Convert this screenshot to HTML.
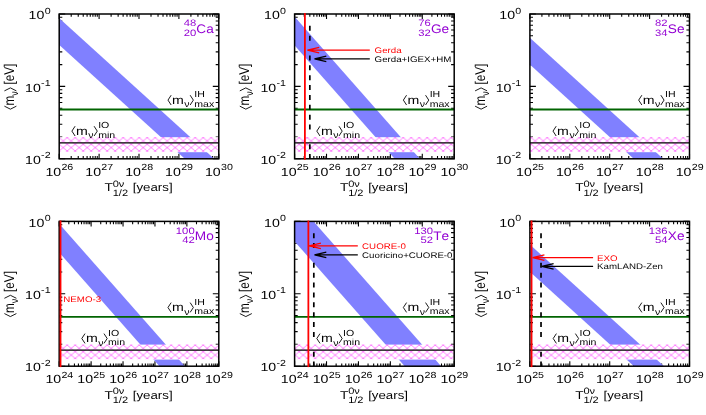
<!DOCTYPE html>
<html><head><meta charset="utf-8"><title>0vbb sensitivity</title>
<style>html,body{margin:0;padding:0;background:#fff}svg{display:block}</style></head>
<body>
<svg width="706" height="415" viewBox="0 0 706 415" font-family="'Liberation Sans', sans-serif" text-rendering="geometricPrecision" style="font-kerning:none">
<rect width="706" height="415" fill="#fff"/>
<g opacity="0.999">
<defs>
<pattern id="hatch0" patternUnits="userSpaceOnUse" x="59.2" y="137.60" width="8" height="6.7"><path d="M0,0L8,6.7M8,0L0,6.7" stroke="#ff00ff" stroke-width="0.52" fill="none"/></pattern>
<pattern id="hatch1" patternUnits="userSpaceOnUse" x="59.2" y="345.00" width="8" height="6.7"><path d="M0,0L8,6.7M8,0L0,6.7" stroke="#ff00ff" stroke-width="0.52" fill="none"/></pattern>
</defs>
<clipPath id="c00"><rect x="59.2" y="14.0" width="159.60" height="144.8"/></clipPath>
<path d="M59.20,158.8v-5.0M59.20,14.0v5.0M71.21,158.8v-2.8M71.21,14.0v2.8M78.24,158.8v-2.8M78.24,14.0v2.8M83.22,158.8v-2.8M83.22,14.0v2.8M87.09,158.8v-2.8M87.09,14.0v2.8M90.25,158.8v-2.8M90.25,14.0v2.8M92.92,158.8v-2.8M92.92,14.0v2.8M95.23,158.8v-2.8M95.23,14.0v2.8M97.27,158.8v-2.8M97.27,14.0v2.8M99.10,158.8v-5.0M99.10,14.0v5.0M111.11,158.8v-2.8M111.11,14.0v2.8M118.14,158.8v-2.8M118.14,14.0v2.8M123.12,158.8v-2.8M123.12,14.0v2.8M126.99,158.8v-2.8M126.99,14.0v2.8M130.15,158.8v-2.8M130.15,14.0v2.8M132.82,158.8v-2.8M132.82,14.0v2.8M135.13,158.8v-2.8M135.13,14.0v2.8M137.17,158.8v-2.8M137.17,14.0v2.8M139.00,158.8v-5.0M139.00,14.0v5.0M151.01,158.8v-2.8M151.01,14.0v2.8M158.04,158.8v-2.8M158.04,14.0v2.8M163.02,158.8v-2.8M163.02,14.0v2.8M166.89,158.8v-2.8M166.89,14.0v2.8M170.05,158.8v-2.8M170.05,14.0v2.8M172.72,158.8v-2.8M172.72,14.0v2.8M175.03,158.8v-2.8M175.03,14.0v2.8M177.07,158.8v-2.8M177.07,14.0v2.8M178.90,158.8v-5.0M178.90,14.0v5.0M190.91,158.8v-2.8M190.91,14.0v2.8M197.94,158.8v-2.8M197.94,14.0v2.8M202.92,158.8v-2.8M202.92,14.0v2.8M206.79,158.8v-2.8M206.79,14.0v2.8M209.95,158.8v-2.8M209.95,14.0v2.8M212.62,158.8v-2.8M212.62,14.0v2.8M214.93,158.8v-2.8M214.93,14.0v2.8M216.97,158.8v-2.8M216.97,14.0v2.8M218.80,158.8v-5.0M218.80,14.0v5.0M59.2,14.00h6.0M218.8,14.00h-6.0M59.2,64.61h3.1M218.8,64.61h-3.1M59.2,51.86h3.1M218.8,51.86h-3.1M59.2,42.81h3.1M218.8,42.81h-3.1M59.2,35.79h3.1M218.8,35.79h-3.1M59.2,30.06h3.1M218.8,30.06h-3.1M59.2,25.21h3.1M218.8,25.21h-3.1M59.2,21.02h3.1M218.8,21.02h-3.1M59.2,17.31h3.1M218.8,17.31h-3.1M59.2,86.40h6.0M218.8,86.40h-6.0M59.2,137.01h3.1M218.8,137.01h-3.1M59.2,124.26h3.1M218.8,124.26h-3.1M59.2,115.21h3.1M218.8,115.21h-3.1M59.2,108.19h3.1M218.8,108.19h-3.1M59.2,102.46h3.1M218.8,102.46h-3.1M59.2,97.61h3.1M218.8,97.61h-3.1M59.2,93.42h3.1M218.8,93.42h-3.1M59.2,89.71h3.1M218.8,89.71h-3.1M59.2,158.80h6.0M218.8,158.80h-6.0" stroke="#000" stroke-width="1.1" fill="none"/>
<polygon clip-path="url(#c00)" fill="#8080ff" points="9.20,-27.20 268.80,208.33 268.80,235.00 9.20,-0.52"/>
<rect x="59.2" y="137.2" width="159.60" height="15.00" fill="#fff"/>
<rect x="59.2" y="137.1" width="159.60" height="14.70" fill="url(#hatch0)"/>
<line x1="59.2" x2="218.8" y1="142.8" y2="142.8" stroke="#000" stroke-width="1.3"/>
<line x1="59.2" x2="218.8" y1="109.5" y2="109.5" stroke="#006400" stroke-width="1.8"/>
<rect x="59.2" y="14.0" width="159.60" height="144.8" fill="none" stroke="#000" stroke-width="1.5"/>
<text xml:space="preserve" transform="translate(45.39,175.55) scale(1.2,1)" font-size="11.8" text-anchor="start" fill="#000">10</text>
<text xml:space="preserve" transform="translate(61.44,170.45) scale(1.2,1)" font-size="8.9" text-anchor="start" fill="#000">26</text>
<text xml:space="preserve" transform="translate(85.29,175.55) scale(1.2,1)" font-size="11.8" text-anchor="start" fill="#000">10</text>
<text xml:space="preserve" transform="translate(101.34,170.45) scale(1.2,1)" font-size="8.9" text-anchor="start" fill="#000">27</text>
<text xml:space="preserve" transform="translate(125.19,175.55) scale(1.2,1)" font-size="11.8" text-anchor="start" fill="#000">10</text>
<text xml:space="preserve" transform="translate(141.24,170.45) scale(1.2,1)" font-size="8.9" text-anchor="start" fill="#000">28</text>
<text xml:space="preserve" transform="translate(165.09,175.55) scale(1.2,1)" font-size="11.8" text-anchor="start" fill="#000">10</text>
<text xml:space="preserve" transform="translate(181.14,170.45) scale(1.2,1)" font-size="8.9" text-anchor="start" fill="#000">29</text>
<text xml:space="preserve" transform="translate(204.99,175.55) scale(1.2,1)" font-size="11.8" text-anchor="start" fill="#000">10</text>
<text xml:space="preserve" transform="translate(221.04,170.45) scale(1.2,1)" font-size="8.9" text-anchor="start" fill="#000">30</text>
<text xml:space="preserve" transform="translate(44.66,13.50) scale(1.2,1)" font-size="8.9" text-anchor="start" fill="#000">0</text>
<text xml:space="preserve" transform="translate(28.61,19.10) scale(1.2,1)" font-size="11.8" text-anchor="start" fill="#000">10</text>
<text xml:space="preserve" transform="translate(41.10,85.90) scale(1.2,1)" font-size="8.9" text-anchor="start" fill="#000">-1</text>
<text xml:space="preserve" transform="translate(25.05,91.50) scale(1.2,1)" font-size="11.8" text-anchor="start" fill="#000">10</text>
<text xml:space="preserve" transform="translate(41.10,158.30) scale(1.2,1)" font-size="8.9" text-anchor="start" fill="#000">-2</text>
<text xml:space="preserve" transform="translate(25.05,163.90) scale(1.2,1)" font-size="11.8" text-anchor="start" fill="#000">10</text>
<text xml:space="preserve" transform="translate(104.58,191.20) scale(1.2,1)" font-size="11.4" text-anchor="start" fill="#000">T</text>
<text xml:space="preserve" transform="translate(112.73,186.90) scale(1.2,1)" font-size="9.2" text-anchor="start" fill="#000">0ν</text>
<text xml:space="preserve" transform="translate(112.73,195.50) scale(1.2,1)" font-size="9.2" text-anchor="start" fill="#000">1/2</text>
<text xml:space="preserve" transform="translate(129.08,191.20) scale(1.165,1)" font-size="11.4" text-anchor="start" fill="#000"> [years]</text>
<polyline points="4.40,106.17 10.40,109.17 16.40,106.17" fill="none" stroke="#000" stroke-width="0.9"/>
<text xml:space="preserve" transform="translate(14.00,105.57) rotate(-90) scale(1,1.2)" font-size="11.8" text-anchor="start" fill="#000">m</text>
<text xml:space="preserve" transform="translate(18.00,95.74) rotate(-90) scale(1,1.2)" font-size="8.9" text-anchor="start" fill="#000">ν</text>
<polyline points="4.40,90.89 10.40,87.89 16.40,90.89" fill="none" stroke="#000" stroke-width="0.9"/>
<text xml:space="preserve" transform="translate(14.00,87.89) rotate(-90) scale(1,1.2)" font-size="11.8" text-anchor="start" fill="#000"> [eV]</text>
<polyline points="171.17,95.20 167.97,100.10 171.17,105.00" fill="none" stroke="#000" stroke-width="0.9"/>
<text xml:space="preserve" transform="translate(172.07,103.80) scale(1.2,1)" font-size="11.8" text-anchor="start" fill="#000">m</text>
<text xml:space="preserve" transform="translate(184.37,107.20) scale(1.2,1)" font-size="8.8" text-anchor="start" fill="#000">ν</text>
<polyline points="190.15,95.20 193.35,100.10 190.15,105.00" fill="none" stroke="#000" stroke-width="0.9"/>
<text xml:space="preserve" transform="translate(194.25,97.10) scale(1.2,1)" font-size="8.8" text-anchor="start" fill="#000">IH</text>
<text xml:space="preserve" transform="translate(194.25,106.70) scale(1.2,1)" font-size="8.8" text-anchor="start" fill="#000">max</text>
<polyline points="75.10,126.20 71.90,131.10 75.10,136.00" fill="none" stroke="#000" stroke-width="0.9"/>
<text xml:space="preserve" transform="translate(76.00,134.80) scale(1.2,1)" font-size="11.8" text-anchor="start" fill="#000">m</text>
<text xml:space="preserve" transform="translate(88.30,138.20) scale(1.2,1)" font-size="8.8" text-anchor="start" fill="#000">ν</text>
<polyline points="94.08,126.20 97.28,131.10 94.08,136.00" fill="none" stroke="#000" stroke-width="0.9"/>
<text xml:space="preserve" transform="translate(98.18,128.10) scale(1.2,1)" font-size="8.8" text-anchor="start" fill="#000">IO</text>
<text xml:space="preserve" transform="translate(98.18,137.70) scale(1.2,1)" font-size="8.8" text-anchor="start" fill="#000">min</text>
<text xml:space="preserve" transform="translate(196.36,32.60) scale(1.1,1)" font-size="12.4" text-anchor="start" fill="#9400d3">Ca</text>
<text xml:space="preserve" transform="translate(196.16,26.30) scale(1.2,1)" font-size="9.4" text-anchor="end" fill="#9400d3">48</text>
<text xml:space="preserve" transform="translate(196.16,35.60) scale(1.2,1)" font-size="9.4" text-anchor="end" fill="#9400d3">20</text>
<clipPath id="c10"><rect x="294.6" y="14.0" width="159.60" height="144.8"/></clipPath>
<path d="M294.60,158.8v-5.0M294.60,14.0v5.0M304.21,158.8v-2.8M304.21,14.0v2.8M309.83,158.8v-2.8M309.83,14.0v2.8M313.82,158.8v-2.8M313.82,14.0v2.8M316.91,158.8v-2.8M316.91,14.0v2.8M319.44,158.8v-2.8M319.44,14.0v2.8M321.58,158.8v-2.8M321.58,14.0v2.8M323.43,158.8v-2.8M323.43,14.0v2.8M325.06,158.8v-2.8M325.06,14.0v2.8M326.52,158.8v-5.0M326.52,14.0v5.0M336.13,158.8v-2.8M336.13,14.0v2.8M341.75,158.8v-2.8M341.75,14.0v2.8M345.74,158.8v-2.8M345.74,14.0v2.8M348.83,158.8v-2.8M348.83,14.0v2.8M351.36,158.8v-2.8M351.36,14.0v2.8M353.50,158.8v-2.8M353.50,14.0v2.8M355.35,158.8v-2.8M355.35,14.0v2.8M356.98,158.8v-2.8M356.98,14.0v2.8M358.44,158.8v-5.0M358.44,14.0v5.0M368.05,158.8v-2.8M368.05,14.0v2.8M373.67,158.8v-2.8M373.67,14.0v2.8M377.66,158.8v-2.8M377.66,14.0v2.8M380.75,158.8v-2.8M380.75,14.0v2.8M383.28,158.8v-2.8M383.28,14.0v2.8M385.42,158.8v-2.8M385.42,14.0v2.8M387.27,158.8v-2.8M387.27,14.0v2.8M388.90,158.8v-2.8M388.90,14.0v2.8M390.36,158.8v-5.0M390.36,14.0v5.0M399.97,158.8v-2.8M399.97,14.0v2.8M405.59,158.8v-2.8M405.59,14.0v2.8M409.58,158.8v-2.8M409.58,14.0v2.8M412.67,158.8v-2.8M412.67,14.0v2.8M415.20,158.8v-2.8M415.20,14.0v2.8M417.34,158.8v-2.8M417.34,14.0v2.8M419.19,158.8v-2.8M419.19,14.0v2.8M420.82,158.8v-2.8M420.82,14.0v2.8M422.28,158.8v-5.0M422.28,14.0v5.0M431.89,158.8v-2.8M431.89,14.0v2.8M437.51,158.8v-2.8M437.51,14.0v2.8M441.50,158.8v-2.8M441.50,14.0v2.8M444.59,158.8v-2.8M444.59,14.0v2.8M447.12,158.8v-2.8M447.12,14.0v2.8M449.26,158.8v-2.8M449.26,14.0v2.8M451.11,158.8v-2.8M451.11,14.0v2.8M452.74,158.8v-2.8M452.74,14.0v2.8M454.20,158.8v-5.0M454.20,14.0v5.0M294.6,14.00h6.0M454.2,14.00h-6.0M294.6,64.61h3.1M454.2,64.61h-3.1M294.6,51.86h3.1M454.2,51.86h-3.1M294.6,42.81h3.1M454.2,42.81h-3.1M294.6,35.79h3.1M454.2,35.79h-3.1M294.6,30.06h3.1M454.2,30.06h-3.1M294.6,25.21h3.1M454.2,25.21h-3.1M294.6,21.02h3.1M454.2,21.02h-3.1M294.6,17.31h3.1M454.2,17.31h-3.1M294.6,86.40h6.0M454.2,86.40h-6.0M294.6,137.01h3.1M454.2,137.01h-3.1M294.6,124.26h3.1M454.2,124.26h-3.1M294.6,115.21h3.1M454.2,115.21h-3.1M294.6,108.19h3.1M454.2,108.19h-3.1M294.6,102.46h3.1M454.2,102.46h-3.1M294.6,97.61h3.1M454.2,97.61h-3.1M294.6,93.42h3.1M454.2,93.42h-3.1M294.6,89.71h3.1M454.2,89.71h-3.1M294.6,158.80h6.0M454.2,158.80h-6.0" stroke="#000" stroke-width="1.1" fill="none"/>
<polygon clip-path="url(#c10)" fill="#8080ff" points="244.60,-39.94 504.20,254.46 504.20,283.04 244.60,-11.37"/>
<rect x="294.6" y="137.2" width="159.60" height="15.00" fill="#fff"/>
<rect x="294.6" y="137.1" width="159.60" height="14.70" fill="url(#hatch0)"/>
<line x1="294.6" x2="454.2" y1="142.8" y2="142.8" stroke="#000" stroke-width="1.3"/>
<line x1="294.6" x2="454.2" y1="109.5" y2="109.5" stroke="#006400" stroke-width="1.8"/>
<rect x="294.6" y="14.0" width="159.60" height="144.8" fill="none" stroke="#000" stroke-width="1.5"/>
<path d="M309.83,25.80V30.80M309.83,35.67V40.67M309.83,55.41V60.41M309.83,65.28V70.28M309.83,75.15V80.15M309.83,85.02V90.02M309.83,94.89V99.89M309.83,104.76V109.76M309.83,114.63V119.63M309.83,124.50V129.50M309.83,144.24V149.24M309.83,154.11V158.80" stroke="#000" stroke-width="1.7" fill="none"/>
<line x1="304.89" x2="304.89" y1="13.1" y2="159.70000000000002" stroke="#f00" stroke-width="1.8"/>
<path d="M369.8,50.1H307.40000000000003M319.2,47.35L307.40000000000003,50.1L319.2,52.85" fill="none" stroke="#f00" stroke-width="1.2"/>
<text xml:space="preserve" transform="translate(374.60,52.90) scale(1.2,1)" font-size="8.1" text-anchor="start" fill="#f00">Gerda</text>
<path d="M369.8,58.9H314.5M326.29999999999995,56.15L314.5,58.9L326.29999999999995,61.65" fill="none" stroke="#000" stroke-width="1.2"/>
<text xml:space="preserve" transform="translate(374.60,61.70) scale(1.2,1)" font-size="8.1" text-anchor="start" fill="#000">Gerda+IGEX+HM</text>
<text xml:space="preserve" transform="translate(280.79,175.55) scale(1.2,1)" font-size="11.8" text-anchor="start" fill="#000">10</text>
<text xml:space="preserve" transform="translate(296.84,170.45) scale(1.2,1)" font-size="8.9" text-anchor="start" fill="#000">25</text>
<text xml:space="preserve" transform="translate(312.71,175.55) scale(1.2,1)" font-size="11.8" text-anchor="start" fill="#000">10</text>
<text xml:space="preserve" transform="translate(328.76,170.45) scale(1.2,1)" font-size="8.9" text-anchor="start" fill="#000">26</text>
<text xml:space="preserve" transform="translate(344.63,175.55) scale(1.2,1)" font-size="11.8" text-anchor="start" fill="#000">10</text>
<text xml:space="preserve" transform="translate(360.68,170.45) scale(1.2,1)" font-size="8.9" text-anchor="start" fill="#000">27</text>
<text xml:space="preserve" transform="translate(376.55,175.55) scale(1.2,1)" font-size="11.8" text-anchor="start" fill="#000">10</text>
<text xml:space="preserve" transform="translate(392.60,170.45) scale(1.2,1)" font-size="8.9" text-anchor="start" fill="#000">28</text>
<text xml:space="preserve" transform="translate(408.47,175.55) scale(1.2,1)" font-size="11.8" text-anchor="start" fill="#000">10</text>
<text xml:space="preserve" transform="translate(424.52,170.45) scale(1.2,1)" font-size="8.9" text-anchor="start" fill="#000">29</text>
<text xml:space="preserve" transform="translate(440.39,175.55) scale(1.2,1)" font-size="11.8" text-anchor="start" fill="#000">10</text>
<text xml:space="preserve" transform="translate(456.44,170.45) scale(1.2,1)" font-size="8.9" text-anchor="start" fill="#000">30</text>
<text xml:space="preserve" transform="translate(280.06,13.50) scale(1.2,1)" font-size="8.9" text-anchor="start" fill="#000">0</text>
<text xml:space="preserve" transform="translate(264.01,19.10) scale(1.2,1)" font-size="11.8" text-anchor="start" fill="#000">10</text>
<text xml:space="preserve" transform="translate(276.50,85.90) scale(1.2,1)" font-size="8.9" text-anchor="start" fill="#000">-1</text>
<text xml:space="preserve" transform="translate(260.45,91.50) scale(1.2,1)" font-size="11.8" text-anchor="start" fill="#000">10</text>
<text xml:space="preserve" transform="translate(276.50,158.30) scale(1.2,1)" font-size="8.9" text-anchor="start" fill="#000">-2</text>
<text xml:space="preserve" transform="translate(260.45,163.90) scale(1.2,1)" font-size="11.8" text-anchor="start" fill="#000">10</text>
<text xml:space="preserve" transform="translate(339.98,191.20) scale(1.2,1)" font-size="11.4" text-anchor="start" fill="#000">T</text>
<text xml:space="preserve" transform="translate(348.13,186.90) scale(1.2,1)" font-size="9.2" text-anchor="start" fill="#000">0ν</text>
<text xml:space="preserve" transform="translate(348.13,195.50) scale(1.2,1)" font-size="9.2" text-anchor="start" fill="#000">1/2</text>
<text xml:space="preserve" transform="translate(364.48,191.20) scale(1.165,1)" font-size="11.4" text-anchor="start" fill="#000"> [years]</text>
<polyline points="239.80,106.17 245.80,109.17 251.80,106.17" fill="none" stroke="#000" stroke-width="0.9"/>
<text xml:space="preserve" transform="translate(249.40,105.57) rotate(-90) scale(1,1.2)" font-size="11.8" text-anchor="start" fill="#000">m</text>
<text xml:space="preserve" transform="translate(253.40,95.74) rotate(-90) scale(1,1.2)" font-size="8.9" text-anchor="start" fill="#000">ν</text>
<polyline points="239.80,90.89 245.80,87.89 251.80,90.89" fill="none" stroke="#000" stroke-width="0.9"/>
<text xml:space="preserve" transform="translate(249.40,87.89) rotate(-90) scale(1,1.2)" font-size="11.8" text-anchor="start" fill="#000"> [eV]</text>
<polyline points="406.57,95.20 403.37,100.10 406.57,105.00" fill="none" stroke="#000" stroke-width="0.9"/>
<text xml:space="preserve" transform="translate(407.47,103.80) scale(1.2,1)" font-size="11.8" text-anchor="start" fill="#000">m</text>
<text xml:space="preserve" transform="translate(419.77,107.20) scale(1.2,1)" font-size="8.8" text-anchor="start" fill="#000">ν</text>
<polyline points="425.55,95.20 428.75,100.10 425.55,105.00" fill="none" stroke="#000" stroke-width="0.9"/>
<text xml:space="preserve" transform="translate(429.65,97.10) scale(1.2,1)" font-size="8.8" text-anchor="start" fill="#000">IH</text>
<text xml:space="preserve" transform="translate(429.65,106.70) scale(1.2,1)" font-size="8.8" text-anchor="start" fill="#000">max</text>
<polyline points="320.00,126.20 316.80,131.10 320.00,136.00" fill="none" stroke="#000" stroke-width="0.9"/>
<text xml:space="preserve" transform="translate(320.90,134.80) scale(1.2,1)" font-size="11.8" text-anchor="start" fill="#000">m</text>
<text xml:space="preserve" transform="translate(333.20,138.20) scale(1.2,1)" font-size="8.8" text-anchor="start" fill="#000">ν</text>
<polyline points="338.98,126.20 342.18,131.10 338.98,136.00" fill="none" stroke="#000" stroke-width="0.9"/>
<text xml:space="preserve" transform="translate(343.08,128.10) scale(1.2,1)" font-size="8.8" text-anchor="start" fill="#000">IO</text>
<text xml:space="preserve" transform="translate(343.08,137.70) scale(1.2,1)" font-size="8.8" text-anchor="start" fill="#000">min</text>
<text xml:space="preserve" transform="translate(431.00,32.60) scale(1.1,1)" font-size="12.4" text-anchor="start" fill="#9400d3">Ge</text>
<text xml:space="preserve" transform="translate(430.80,26.30) scale(1.2,1)" font-size="9.4" text-anchor="end" fill="#9400d3">76</text>
<text xml:space="preserve" transform="translate(430.80,35.60) scale(1.2,1)" font-size="9.4" text-anchor="end" fill="#9400d3">32</text>
<clipPath id="c20"><rect x="529.9" y="14.0" width="159.60" height="144.8"/></clipPath>
<path d="M529.90,158.8v-5.0M529.90,14.0v5.0M541.91,158.8v-2.8M541.91,14.0v2.8M548.94,158.8v-2.8M548.94,14.0v2.8M553.92,158.8v-2.8M553.92,14.0v2.8M557.79,158.8v-2.8M557.79,14.0v2.8M560.95,158.8v-2.8M560.95,14.0v2.8M563.62,158.8v-2.8M563.62,14.0v2.8M565.93,158.8v-2.8M565.93,14.0v2.8M567.97,158.8v-2.8M567.97,14.0v2.8M569.80,158.8v-5.0M569.80,14.0v5.0M581.81,158.8v-2.8M581.81,14.0v2.8M588.84,158.8v-2.8M588.84,14.0v2.8M593.82,158.8v-2.8M593.82,14.0v2.8M597.69,158.8v-2.8M597.69,14.0v2.8M600.85,158.8v-2.8M600.85,14.0v2.8M603.52,158.8v-2.8M603.52,14.0v2.8M605.83,158.8v-2.8M605.83,14.0v2.8M607.87,158.8v-2.8M607.87,14.0v2.8M609.70,158.8v-5.0M609.70,14.0v5.0M621.71,158.8v-2.8M621.71,14.0v2.8M628.74,158.8v-2.8M628.74,14.0v2.8M633.72,158.8v-2.8M633.72,14.0v2.8M637.59,158.8v-2.8M637.59,14.0v2.8M640.75,158.8v-2.8M640.75,14.0v2.8M643.42,158.8v-2.8M643.42,14.0v2.8M645.73,158.8v-2.8M645.73,14.0v2.8M647.77,158.8v-2.8M647.77,14.0v2.8M649.60,158.8v-5.0M649.60,14.0v5.0M661.61,158.8v-2.8M661.61,14.0v2.8M668.64,158.8v-2.8M668.64,14.0v2.8M673.62,158.8v-2.8M673.62,14.0v2.8M677.49,158.8v-2.8M677.49,14.0v2.8M680.65,158.8v-2.8M680.65,14.0v2.8M683.32,158.8v-2.8M683.32,14.0v2.8M685.63,158.8v-2.8M685.63,14.0v2.8M687.67,158.8v-2.8M687.67,14.0v2.8M689.50,158.8v-5.0M689.50,14.0v5.0M529.9,14.00h6.0M689.5,14.00h-6.0M529.9,64.61h3.1M689.5,64.61h-3.1M529.9,51.86h3.1M689.5,51.86h-3.1M529.9,42.81h3.1M689.5,42.81h-3.1M529.9,35.79h3.1M689.5,35.79h-3.1M529.9,30.06h3.1M689.5,30.06h-3.1M529.9,25.21h3.1M689.5,25.21h-3.1M529.9,21.02h3.1M689.5,21.02h-3.1M529.9,17.31h3.1M689.5,17.31h-3.1M529.9,86.40h6.0M689.5,86.40h-6.0M529.9,137.01h3.1M689.5,137.01h-3.1M529.9,124.26h3.1M689.5,124.26h-3.1M529.9,115.21h3.1M689.5,115.21h-3.1M529.9,108.19h3.1M689.5,108.19h-3.1M529.9,102.46h3.1M689.5,102.46h-3.1M529.9,97.61h3.1M689.5,97.61h-3.1M529.9,93.42h3.1M689.5,93.42h-3.1M529.9,89.71h3.1M689.5,89.71h-3.1M529.9,158.80h6.0M689.5,158.80h-6.0" stroke="#000" stroke-width="1.1" fill="none"/>
<polygon clip-path="url(#c20)" fill="#8080ff" points="479.90,-7.51 739.50,228.02 739.50,254.78 479.90,19.26"/>
<rect x="529.9" y="137.2" width="159.60" height="15.00" fill="#fff"/>
<rect x="529.9" y="137.1" width="159.60" height="14.70" fill="url(#hatch0)"/>
<line x1="529.9" x2="689.5" y1="142.8" y2="142.8" stroke="#000" stroke-width="1.3"/>
<line x1="529.9" x2="689.5" y1="109.5" y2="109.5" stroke="#006400" stroke-width="1.8"/>
<rect x="529.9" y="14.0" width="159.60" height="144.8" fill="none" stroke="#000" stroke-width="1.5"/>
<text xml:space="preserve" transform="translate(516.09,175.55) scale(1.2,1)" font-size="11.8" text-anchor="start" fill="#000">10</text>
<text xml:space="preserve" transform="translate(532.14,170.45) scale(1.2,1)" font-size="8.9" text-anchor="start" fill="#000">25</text>
<text xml:space="preserve" transform="translate(555.99,175.55) scale(1.2,1)" font-size="11.8" text-anchor="start" fill="#000">10</text>
<text xml:space="preserve" transform="translate(572.04,170.45) scale(1.2,1)" font-size="8.9" text-anchor="start" fill="#000">26</text>
<text xml:space="preserve" transform="translate(595.89,175.55) scale(1.2,1)" font-size="11.8" text-anchor="start" fill="#000">10</text>
<text xml:space="preserve" transform="translate(611.94,170.45) scale(1.2,1)" font-size="8.9" text-anchor="start" fill="#000">27</text>
<text xml:space="preserve" transform="translate(635.79,175.55) scale(1.2,1)" font-size="11.8" text-anchor="start" fill="#000">10</text>
<text xml:space="preserve" transform="translate(651.84,170.45) scale(1.2,1)" font-size="8.9" text-anchor="start" fill="#000">28</text>
<text xml:space="preserve" transform="translate(675.69,175.55) scale(1.2,1)" font-size="11.8" text-anchor="start" fill="#000">10</text>
<text xml:space="preserve" transform="translate(691.74,170.45) scale(1.2,1)" font-size="8.9" text-anchor="start" fill="#000">29</text>
<text xml:space="preserve" transform="translate(515.36,13.50) scale(1.2,1)" font-size="8.9" text-anchor="start" fill="#000">0</text>
<text xml:space="preserve" transform="translate(499.31,19.10) scale(1.2,1)" font-size="11.8" text-anchor="start" fill="#000">10</text>
<text xml:space="preserve" transform="translate(511.80,85.90) scale(1.2,1)" font-size="8.9" text-anchor="start" fill="#000">-1</text>
<text xml:space="preserve" transform="translate(495.75,91.50) scale(1.2,1)" font-size="11.8" text-anchor="start" fill="#000">10</text>
<text xml:space="preserve" transform="translate(511.80,158.30) scale(1.2,1)" font-size="8.9" text-anchor="start" fill="#000">-2</text>
<text xml:space="preserve" transform="translate(495.75,163.90) scale(1.2,1)" font-size="11.8" text-anchor="start" fill="#000">10</text>
<text xml:space="preserve" transform="translate(575.28,191.20) scale(1.2,1)" font-size="11.4" text-anchor="start" fill="#000">T</text>
<text xml:space="preserve" transform="translate(583.43,186.90) scale(1.2,1)" font-size="9.2" text-anchor="start" fill="#000">0ν</text>
<text xml:space="preserve" transform="translate(583.43,195.50) scale(1.2,1)" font-size="9.2" text-anchor="start" fill="#000">1/2</text>
<text xml:space="preserve" transform="translate(599.78,191.20) scale(1.165,1)" font-size="11.4" text-anchor="start" fill="#000"> [years]</text>
<polyline points="475.10,106.17 481.10,109.17 487.10,106.17" fill="none" stroke="#000" stroke-width="0.9"/>
<text xml:space="preserve" transform="translate(484.70,105.57) rotate(-90) scale(1,1.2)" font-size="11.8" text-anchor="start" fill="#000">m</text>
<text xml:space="preserve" transform="translate(488.70,95.74) rotate(-90) scale(1,1.2)" font-size="8.9" text-anchor="start" fill="#000">ν</text>
<polyline points="475.10,90.89 481.10,87.89 487.10,90.89" fill="none" stroke="#000" stroke-width="0.9"/>
<text xml:space="preserve" transform="translate(484.70,87.89) rotate(-90) scale(1,1.2)" font-size="11.8" text-anchor="start" fill="#000"> [eV]</text>
<polyline points="641.87,95.20 638.67,100.10 641.87,105.00" fill="none" stroke="#000" stroke-width="0.9"/>
<text xml:space="preserve" transform="translate(642.77,103.80) scale(1.2,1)" font-size="11.8" text-anchor="start" fill="#000">m</text>
<text xml:space="preserve" transform="translate(655.07,107.20) scale(1.2,1)" font-size="8.8" text-anchor="start" fill="#000">ν</text>
<polyline points="660.85,95.20 664.05,100.10 660.85,105.00" fill="none" stroke="#000" stroke-width="0.9"/>
<text xml:space="preserve" transform="translate(664.95,97.10) scale(1.2,1)" font-size="8.8" text-anchor="start" fill="#000">IH</text>
<text xml:space="preserve" transform="translate(664.95,106.70) scale(1.2,1)" font-size="8.8" text-anchor="start" fill="#000">max</text>
<polyline points="556.20,126.20 553.00,131.10 556.20,136.00" fill="none" stroke="#000" stroke-width="0.9"/>
<text xml:space="preserve" transform="translate(557.10,134.80) scale(1.2,1)" font-size="11.8" text-anchor="start" fill="#000">m</text>
<text xml:space="preserve" transform="translate(569.40,138.20) scale(1.2,1)" font-size="8.8" text-anchor="start" fill="#000">ν</text>
<polyline points="575.18,126.20 578.38,131.10 575.18,136.00" fill="none" stroke="#000" stroke-width="0.9"/>
<text xml:space="preserve" transform="translate(579.28,128.10) scale(1.2,1)" font-size="8.8" text-anchor="start" fill="#000">IO</text>
<text xml:space="preserve" transform="translate(579.28,137.70) scale(1.2,1)" font-size="8.8" text-anchor="start" fill="#000">min</text>
<text xml:space="preserve" transform="translate(667.82,32.60) scale(1.1,1)" font-size="12.4" text-anchor="start" fill="#9400d3">Se</text>
<text xml:space="preserve" transform="translate(667.62,26.30) scale(1.2,1)" font-size="9.4" text-anchor="end" fill="#9400d3">82</text>
<text xml:space="preserve" transform="translate(667.62,35.60) scale(1.2,1)" font-size="9.4" text-anchor="end" fill="#9400d3">34</text>
<clipPath id="c01"><rect x="59.2" y="221.4" width="159.60" height="144.8"/></clipPath>
<path d="M59.20,366.20000000000005v-5.0M59.20,221.4v5.0M68.81,366.20000000000005v-2.8M68.81,221.4v2.8M74.43,366.20000000000005v-2.8M74.43,221.4v2.8M78.42,366.20000000000005v-2.8M78.42,221.4v2.8M81.51,366.20000000000005v-2.8M81.51,221.4v2.8M84.04,366.20000000000005v-2.8M84.04,221.4v2.8M86.18,366.20000000000005v-2.8M86.18,221.4v2.8M88.03,366.20000000000005v-2.8M88.03,221.4v2.8M89.66,366.20000000000005v-2.8M89.66,221.4v2.8M91.12,366.20000000000005v-5.0M91.12,221.4v5.0M100.73,366.20000000000005v-2.8M100.73,221.4v2.8M106.35,366.20000000000005v-2.8M106.35,221.4v2.8M110.34,366.20000000000005v-2.8M110.34,221.4v2.8M113.43,366.20000000000005v-2.8M113.43,221.4v2.8M115.96,366.20000000000005v-2.8M115.96,221.4v2.8M118.10,366.20000000000005v-2.8M118.10,221.4v2.8M119.95,366.20000000000005v-2.8M119.95,221.4v2.8M121.58,366.20000000000005v-2.8M121.58,221.4v2.8M123.04,366.20000000000005v-5.0M123.04,221.4v5.0M132.65,366.20000000000005v-2.8M132.65,221.4v2.8M138.27,366.20000000000005v-2.8M138.27,221.4v2.8M142.26,366.20000000000005v-2.8M142.26,221.4v2.8M145.35,366.20000000000005v-2.8M145.35,221.4v2.8M147.88,366.20000000000005v-2.8M147.88,221.4v2.8M150.02,366.20000000000005v-2.8M150.02,221.4v2.8M151.87,366.20000000000005v-2.8M151.87,221.4v2.8M153.50,366.20000000000005v-2.8M153.50,221.4v2.8M154.96,366.20000000000005v-5.0M154.96,221.4v5.0M164.57,366.20000000000005v-2.8M164.57,221.4v2.8M170.19,366.20000000000005v-2.8M170.19,221.4v2.8M174.18,366.20000000000005v-2.8M174.18,221.4v2.8M177.27,366.20000000000005v-2.8M177.27,221.4v2.8M179.80,366.20000000000005v-2.8M179.80,221.4v2.8M181.94,366.20000000000005v-2.8M181.94,221.4v2.8M183.79,366.20000000000005v-2.8M183.79,221.4v2.8M185.42,366.20000000000005v-2.8M185.42,221.4v2.8M186.88,366.20000000000005v-5.0M186.88,221.4v5.0M196.49,366.20000000000005v-2.8M196.49,221.4v2.8M202.11,366.20000000000005v-2.8M202.11,221.4v2.8M206.10,366.20000000000005v-2.8M206.10,221.4v2.8M209.19,366.20000000000005v-2.8M209.19,221.4v2.8M211.72,366.20000000000005v-2.8M211.72,221.4v2.8M213.86,366.20000000000005v-2.8M213.86,221.4v2.8M215.71,366.20000000000005v-2.8M215.71,221.4v2.8M217.34,366.20000000000005v-2.8M217.34,221.4v2.8M218.80,366.20000000000005v-5.0M218.80,221.4v5.0M59.2,221.40h6.0M218.8,221.40h-6.0M59.2,272.01h3.1M218.8,272.01h-3.1M59.2,259.26h3.1M218.8,259.26h-3.1M59.2,250.21h3.1M218.8,250.21h-3.1M59.2,243.19h3.1M218.8,243.19h-3.1M59.2,237.46h3.1M218.8,237.46h-3.1M59.2,232.61h3.1M218.8,232.61h-3.1M59.2,228.42h3.1M218.8,228.42h-3.1M59.2,224.71h3.1M218.8,224.71h-3.1M59.2,293.80h6.0M218.8,293.80h-6.0M59.2,344.41h3.1M218.8,344.41h-3.1M59.2,331.66h3.1M218.8,331.66h-3.1M59.2,322.61h3.1M218.8,322.61h-3.1M59.2,315.59h3.1M218.8,315.59h-3.1M59.2,309.86h3.1M218.8,309.86h-3.1M59.2,305.01h3.1M218.8,305.01h-3.1M59.2,300.82h3.1M218.8,300.82h-3.1M59.2,297.11h3.1M218.8,297.11h-3.1M59.2,366.20h6.0M218.8,366.20h-6.0" stroke="#000" stroke-width="1.1" fill="none"/>
<polygon clip-path="url(#c01)" fill="#8080ff" points="9.20,167.00 268.80,461.41 268.80,490.22 9.20,195.81"/>
<rect x="59.2" y="344.6" width="159.60" height="15.00" fill="#fff"/>
<rect x="59.2" y="344.5" width="159.60" height="14.70" fill="url(#hatch1)"/>
<line x1="59.2" x2="218.8" y1="350.20000000000005" y2="350.20000000000005" stroke="#000" stroke-width="1.3"/>
<line x1="59.2" x2="218.8" y1="316.9" y2="316.9" stroke="#006400" stroke-width="1.8"/>
<rect x="59.2" y="221.4" width="159.60" height="144.8" fill="none" stroke="#000" stroke-width="1.5"/>
<line x1="60.52" x2="60.52" y1="220.5" y2="367.1" stroke="#f00" stroke-width="1.8"/>
<text xml:space="preserve" transform="translate(63.30,301.90) scale(1.2,1)" font-size="8.1" text-anchor="start" fill="#f00">NEMO-3</text>
<text xml:space="preserve" transform="translate(45.39,382.95) scale(1.2,1)" font-size="11.8" text-anchor="start" fill="#000">10</text>
<text xml:space="preserve" transform="translate(61.44,377.85) scale(1.2,1)" font-size="8.9" text-anchor="start" fill="#000">24</text>
<text xml:space="preserve" transform="translate(77.31,382.95) scale(1.2,1)" font-size="11.8" text-anchor="start" fill="#000">10</text>
<text xml:space="preserve" transform="translate(93.36,377.85) scale(1.2,1)" font-size="8.9" text-anchor="start" fill="#000">25</text>
<text xml:space="preserve" transform="translate(109.23,382.95) scale(1.2,1)" font-size="11.8" text-anchor="start" fill="#000">10</text>
<text xml:space="preserve" transform="translate(125.28,377.85) scale(1.2,1)" font-size="8.9" text-anchor="start" fill="#000">26</text>
<text xml:space="preserve" transform="translate(141.15,382.95) scale(1.2,1)" font-size="11.8" text-anchor="start" fill="#000">10</text>
<text xml:space="preserve" transform="translate(157.20,377.85) scale(1.2,1)" font-size="8.9" text-anchor="start" fill="#000">27</text>
<text xml:space="preserve" transform="translate(173.07,382.95) scale(1.2,1)" font-size="11.8" text-anchor="start" fill="#000">10</text>
<text xml:space="preserve" transform="translate(189.12,377.85) scale(1.2,1)" font-size="8.9" text-anchor="start" fill="#000">28</text>
<text xml:space="preserve" transform="translate(204.99,382.95) scale(1.2,1)" font-size="11.8" text-anchor="start" fill="#000">10</text>
<text xml:space="preserve" transform="translate(221.04,377.85) scale(1.2,1)" font-size="8.9" text-anchor="start" fill="#000">29</text>
<text xml:space="preserve" transform="translate(44.66,220.90) scale(1.2,1)" font-size="8.9" text-anchor="start" fill="#000">0</text>
<text xml:space="preserve" transform="translate(28.61,226.50) scale(1.2,1)" font-size="11.8" text-anchor="start" fill="#000">10</text>
<text xml:space="preserve" transform="translate(41.10,293.30) scale(1.2,1)" font-size="8.9" text-anchor="start" fill="#000">-1</text>
<text xml:space="preserve" transform="translate(25.05,298.90) scale(1.2,1)" font-size="11.8" text-anchor="start" fill="#000">10</text>
<text xml:space="preserve" transform="translate(41.10,365.70) scale(1.2,1)" font-size="8.9" text-anchor="start" fill="#000">-2</text>
<text xml:space="preserve" transform="translate(25.05,371.30) scale(1.2,1)" font-size="11.8" text-anchor="start" fill="#000">10</text>
<text xml:space="preserve" transform="translate(104.58,398.60) scale(1.2,1)" font-size="11.4" text-anchor="start" fill="#000">T</text>
<text xml:space="preserve" transform="translate(112.73,394.30) scale(1.2,1)" font-size="9.2" text-anchor="start" fill="#000">0ν</text>
<text xml:space="preserve" transform="translate(112.73,402.90) scale(1.2,1)" font-size="9.2" text-anchor="start" fill="#000">1/2</text>
<text xml:space="preserve" transform="translate(129.08,398.60) scale(1.165,1)" font-size="11.4" text-anchor="start" fill="#000"> [years]</text>
<polyline points="4.40,313.57 10.40,316.57 16.40,313.57" fill="none" stroke="#000" stroke-width="0.9"/>
<text xml:space="preserve" transform="translate(14.00,312.97) rotate(-90) scale(1,1.2)" font-size="11.8" text-anchor="start" fill="#000">m</text>
<text xml:space="preserve" transform="translate(18.00,303.14) rotate(-90) scale(1,1.2)" font-size="8.9" text-anchor="start" fill="#000">ν</text>
<polyline points="4.40,298.29 10.40,295.29 16.40,298.29" fill="none" stroke="#000" stroke-width="0.9"/>
<text xml:space="preserve" transform="translate(14.00,295.29) rotate(-90) scale(1,1.2)" font-size="11.8" text-anchor="start" fill="#000"> [eV]</text>
<polyline points="171.17,302.60 167.97,307.50 171.17,312.40" fill="none" stroke="#000" stroke-width="0.9"/>
<text xml:space="preserve" transform="translate(172.07,311.20) scale(1.2,1)" font-size="11.8" text-anchor="start" fill="#000">m</text>
<text xml:space="preserve" transform="translate(184.37,314.60) scale(1.2,1)" font-size="8.8" text-anchor="start" fill="#000">ν</text>
<polyline points="190.15,302.60 193.35,307.50 190.15,312.40" fill="none" stroke="#000" stroke-width="0.9"/>
<text xml:space="preserve" transform="translate(194.25,304.50) scale(1.2,1)" font-size="8.8" text-anchor="start" fill="#000">IH</text>
<text xml:space="preserve" transform="translate(194.25,314.10) scale(1.2,1)" font-size="8.8" text-anchor="start" fill="#000">max</text>
<polyline points="85.00,333.60 81.80,338.50 85.00,343.40" fill="none" stroke="#000" stroke-width="0.9"/>
<text xml:space="preserve" transform="translate(85.90,342.20) scale(1.2,1)" font-size="11.8" text-anchor="start" fill="#000">m</text>
<text xml:space="preserve" transform="translate(98.20,345.60) scale(1.2,1)" font-size="8.8" text-anchor="start" fill="#000">ν</text>
<polyline points="103.98,333.60 107.18,338.50 103.98,343.40" fill="none" stroke="#000" stroke-width="0.9"/>
<text xml:space="preserve" transform="translate(108.08,335.50) scale(1.2,1)" font-size="8.8" text-anchor="start" fill="#000">IO</text>
<text xml:space="preserve" transform="translate(108.08,345.10) scale(1.2,1)" font-size="8.8" text-anchor="start" fill="#000">min</text>
<text xml:space="preserve" transform="translate(194.85,240.00) scale(1.1,1)" font-size="12.4" text-anchor="start" fill="#9400d3">Mo</text>
<text xml:space="preserve" transform="translate(194.65,233.70) scale(1.2,1)" font-size="9.4" text-anchor="end" fill="#9400d3">100</text>
<text xml:space="preserve" transform="translate(194.65,243.00) scale(1.2,1)" font-size="9.4" text-anchor="end" fill="#9400d3">42</text>
<clipPath id="c11"><rect x="294.6" y="221.4" width="159.60" height="144.8"/></clipPath>
<path d="M294.60,366.20000000000005v-5.0M294.60,221.4v5.0M304.21,366.20000000000005v-2.8M304.21,221.4v2.8M309.83,366.20000000000005v-2.8M309.83,221.4v2.8M313.82,366.20000000000005v-2.8M313.82,221.4v2.8M316.91,366.20000000000005v-2.8M316.91,221.4v2.8M319.44,366.20000000000005v-2.8M319.44,221.4v2.8M321.58,366.20000000000005v-2.8M321.58,221.4v2.8M323.43,366.20000000000005v-2.8M323.43,221.4v2.8M325.06,366.20000000000005v-2.8M325.06,221.4v2.8M326.52,366.20000000000005v-5.0M326.52,221.4v5.0M336.13,366.20000000000005v-2.8M336.13,221.4v2.8M341.75,366.20000000000005v-2.8M341.75,221.4v2.8M345.74,366.20000000000005v-2.8M345.74,221.4v2.8M348.83,366.20000000000005v-2.8M348.83,221.4v2.8M351.36,366.20000000000005v-2.8M351.36,221.4v2.8M353.50,366.20000000000005v-2.8M353.50,221.4v2.8M355.35,366.20000000000005v-2.8M355.35,221.4v2.8M356.98,366.20000000000005v-2.8M356.98,221.4v2.8M358.44,366.20000000000005v-5.0M358.44,221.4v5.0M368.05,366.20000000000005v-2.8M368.05,221.4v2.8M373.67,366.20000000000005v-2.8M373.67,221.4v2.8M377.66,366.20000000000005v-2.8M377.66,221.4v2.8M380.75,366.20000000000005v-2.8M380.75,221.4v2.8M383.28,366.20000000000005v-2.8M383.28,221.4v2.8M385.42,366.20000000000005v-2.8M385.42,221.4v2.8M387.27,366.20000000000005v-2.8M387.27,221.4v2.8M388.90,366.20000000000005v-2.8M388.90,221.4v2.8M390.36,366.20000000000005v-5.0M390.36,221.4v5.0M399.97,366.20000000000005v-2.8M399.97,221.4v2.8M405.59,366.20000000000005v-2.8M405.59,221.4v2.8M409.58,366.20000000000005v-2.8M409.58,221.4v2.8M412.67,366.20000000000005v-2.8M412.67,221.4v2.8M415.20,366.20000000000005v-2.8M415.20,221.4v2.8M417.34,366.20000000000005v-2.8M417.34,221.4v2.8M419.19,366.20000000000005v-2.8M419.19,221.4v2.8M420.82,366.20000000000005v-2.8M420.82,221.4v2.8M422.28,366.20000000000005v-5.0M422.28,221.4v5.0M431.89,366.20000000000005v-2.8M431.89,221.4v2.8M437.51,366.20000000000005v-2.8M437.51,221.4v2.8M441.50,366.20000000000005v-2.8M441.50,221.4v2.8M444.59,366.20000000000005v-2.8M444.59,221.4v2.8M447.12,366.20000000000005v-2.8M447.12,221.4v2.8M449.26,366.20000000000005v-2.8M449.26,221.4v2.8M451.11,366.20000000000005v-2.8M451.11,221.4v2.8M452.74,366.20000000000005v-2.8M452.74,221.4v2.8M454.20,366.20000000000005v-5.0M454.20,221.4v5.0M294.6,221.40h6.0M454.2,221.40h-6.0M294.6,272.01h3.1M454.2,272.01h-3.1M294.6,259.26h3.1M454.2,259.26h-3.1M294.6,250.21h3.1M454.2,250.21h-3.1M294.6,243.19h3.1M454.2,243.19h-3.1M294.6,237.46h3.1M454.2,237.46h-3.1M294.6,232.61h3.1M454.2,232.61h-3.1M294.6,228.42h3.1M454.2,228.42h-3.1M294.6,224.71h3.1M454.2,224.71h-3.1M294.6,293.80h6.0M454.2,293.80h-6.0M294.6,344.41h3.1M454.2,344.41h-3.1M294.6,331.66h3.1M454.2,331.66h-3.1M294.6,322.61h3.1M454.2,322.61h-3.1M294.6,315.59h3.1M454.2,315.59h-3.1M294.6,309.86h3.1M454.2,309.86h-3.1M294.6,305.01h3.1M454.2,305.01h-3.1M294.6,300.82h3.1M454.2,300.82h-3.1M294.6,297.11h3.1M454.2,297.11h-3.1M294.6,366.20h6.0M454.2,366.20h-6.0" stroke="#000" stroke-width="1.1" fill="none"/>
<polygon clip-path="url(#c11)" fill="#8080ff" points="244.60,143.30 504.20,437.71 504.20,479.10 244.60,184.69"/>
<rect x="294.6" y="344.6" width="159.60" height="15.00" fill="#fff"/>
<rect x="294.6" y="344.5" width="159.60" height="14.70" fill="url(#hatch1)"/>
<line x1="294.6" x2="454.2" y1="350.20000000000005" y2="350.20000000000005" stroke="#000" stroke-width="1.3"/>
<line x1="294.6" x2="454.2" y1="316.9" y2="316.9" stroke="#006400" stroke-width="1.8"/>
<rect x="294.6" y="221.4" width="159.60" height="144.8" fill="none" stroke="#000" stroke-width="1.5"/>
<path d="M313.82,233.20V238.20M313.82,243.07V248.07M313.82,262.81V267.81M313.82,272.68V277.68M313.82,282.55V287.55M313.82,292.42V297.42M313.82,302.29V307.29M313.82,312.16V317.16M313.82,322.03V327.03M313.82,331.90V336.90M313.82,351.64V356.64M313.82,361.51V366.20" stroke="#000" stroke-width="1.7" fill="none"/>
<line x1="308.37" x2="308.37" y1="220.5" y2="367.1" stroke="#f00" stroke-width="1.8"/>
<path d="M357.8,245.9H309.1M320.9,243.15L309.1,245.9L320.9,248.65" fill="none" stroke="#f00" stroke-width="1.2"/>
<text xml:space="preserve" transform="translate(362.10,248.70) scale(1.2,1)" font-size="8.1" text-anchor="start" fill="#f00">CUORE-0</text>
<path d="M357.8,254.8H314.5M326.29999999999995,252.05L314.5,254.8L326.29999999999995,257.55" fill="none" stroke="#000" stroke-width="1.2"/>
<text xml:space="preserve" transform="translate(362.10,257.60) scale(1.2,1)" font-size="8.1" text-anchor="start" fill="#000">Cuoricino+CUORE-0</text>
<text xml:space="preserve" transform="translate(280.79,382.95) scale(1.2,1)" font-size="11.8" text-anchor="start" fill="#000">10</text>
<text xml:space="preserve" transform="translate(296.84,377.85) scale(1.2,1)" font-size="8.9" text-anchor="start" fill="#000">24</text>
<text xml:space="preserve" transform="translate(312.71,382.95) scale(1.2,1)" font-size="11.8" text-anchor="start" fill="#000">10</text>
<text xml:space="preserve" transform="translate(328.76,377.85) scale(1.2,1)" font-size="8.9" text-anchor="start" fill="#000">25</text>
<text xml:space="preserve" transform="translate(344.63,382.95) scale(1.2,1)" font-size="11.8" text-anchor="start" fill="#000">10</text>
<text xml:space="preserve" transform="translate(360.68,377.85) scale(1.2,1)" font-size="8.9" text-anchor="start" fill="#000">26</text>
<text xml:space="preserve" transform="translate(376.55,382.95) scale(1.2,1)" font-size="11.8" text-anchor="start" fill="#000">10</text>
<text xml:space="preserve" transform="translate(392.60,377.85) scale(1.2,1)" font-size="8.9" text-anchor="start" fill="#000">27</text>
<text xml:space="preserve" transform="translate(408.47,382.95) scale(1.2,1)" font-size="11.8" text-anchor="start" fill="#000">10</text>
<text xml:space="preserve" transform="translate(424.52,377.85) scale(1.2,1)" font-size="8.9" text-anchor="start" fill="#000">28</text>
<text xml:space="preserve" transform="translate(440.39,382.95) scale(1.2,1)" font-size="11.8" text-anchor="start" fill="#000">10</text>
<text xml:space="preserve" transform="translate(456.44,377.85) scale(1.2,1)" font-size="8.9" text-anchor="start" fill="#000">29</text>
<text xml:space="preserve" transform="translate(280.06,220.90) scale(1.2,1)" font-size="8.9" text-anchor="start" fill="#000">0</text>
<text xml:space="preserve" transform="translate(264.01,226.50) scale(1.2,1)" font-size="11.8" text-anchor="start" fill="#000">10</text>
<text xml:space="preserve" transform="translate(276.50,293.30) scale(1.2,1)" font-size="8.9" text-anchor="start" fill="#000">-1</text>
<text xml:space="preserve" transform="translate(260.45,298.90) scale(1.2,1)" font-size="11.8" text-anchor="start" fill="#000">10</text>
<text xml:space="preserve" transform="translate(276.50,365.70) scale(1.2,1)" font-size="8.9" text-anchor="start" fill="#000">-2</text>
<text xml:space="preserve" transform="translate(260.45,371.30) scale(1.2,1)" font-size="11.8" text-anchor="start" fill="#000">10</text>
<text xml:space="preserve" transform="translate(339.98,398.60) scale(1.2,1)" font-size="11.4" text-anchor="start" fill="#000">T</text>
<text xml:space="preserve" transform="translate(348.13,394.30) scale(1.2,1)" font-size="9.2" text-anchor="start" fill="#000">0ν</text>
<text xml:space="preserve" transform="translate(348.13,402.90) scale(1.2,1)" font-size="9.2" text-anchor="start" fill="#000">1/2</text>
<text xml:space="preserve" transform="translate(364.48,398.60) scale(1.165,1)" font-size="11.4" text-anchor="start" fill="#000"> [years]</text>
<polyline points="239.80,313.57 245.80,316.57 251.80,313.57" fill="none" stroke="#000" stroke-width="0.9"/>
<text xml:space="preserve" transform="translate(249.40,312.97) rotate(-90) scale(1,1.2)" font-size="11.8" text-anchor="start" fill="#000">m</text>
<text xml:space="preserve" transform="translate(253.40,303.14) rotate(-90) scale(1,1.2)" font-size="8.9" text-anchor="start" fill="#000">ν</text>
<polyline points="239.80,298.29 245.80,295.29 251.80,298.29" fill="none" stroke="#000" stroke-width="0.9"/>
<text xml:space="preserve" transform="translate(249.40,295.29) rotate(-90) scale(1,1.2)" font-size="11.8" text-anchor="start" fill="#000"> [eV]</text>
<polyline points="406.57,302.60 403.37,307.50 406.57,312.40" fill="none" stroke="#000" stroke-width="0.9"/>
<text xml:space="preserve" transform="translate(407.47,311.20) scale(1.2,1)" font-size="11.8" text-anchor="start" fill="#000">m</text>
<text xml:space="preserve" transform="translate(419.77,314.60) scale(1.2,1)" font-size="8.8" text-anchor="start" fill="#000">ν</text>
<polyline points="425.55,302.60 428.75,307.50 425.55,312.40" fill="none" stroke="#000" stroke-width="0.9"/>
<text xml:space="preserve" transform="translate(429.65,304.50) scale(1.2,1)" font-size="8.8" text-anchor="start" fill="#000">IH</text>
<text xml:space="preserve" transform="translate(429.65,314.10) scale(1.2,1)" font-size="8.8" text-anchor="start" fill="#000">max</text>
<polyline points="320.00,333.60 316.80,338.50 320.00,343.40" fill="none" stroke="#000" stroke-width="0.9"/>
<text xml:space="preserve" transform="translate(320.90,342.20) scale(1.2,1)" font-size="11.8" text-anchor="start" fill="#000">m</text>
<text xml:space="preserve" transform="translate(333.20,345.60) scale(1.2,1)" font-size="8.8" text-anchor="start" fill="#000">ν</text>
<polyline points="338.98,333.60 342.18,338.50 338.98,343.40" fill="none" stroke="#000" stroke-width="0.9"/>
<text xml:space="preserve" transform="translate(343.08,335.50) scale(1.2,1)" font-size="8.8" text-anchor="start" fill="#000">IO</text>
<text xml:space="preserve" transform="translate(343.08,345.10) scale(1.2,1)" font-size="8.8" text-anchor="start" fill="#000">min</text>
<text xml:space="preserve" transform="translate(433.28,240.00) scale(1.1,1)" font-size="12.4" text-anchor="start" fill="#9400d3">Te</text>
<text xml:space="preserve" transform="translate(433.08,233.70) scale(1.2,1)" font-size="9.4" text-anchor="end" fill="#9400d3">130</text>
<text xml:space="preserve" transform="translate(433.08,243.00) scale(1.2,1)" font-size="9.4" text-anchor="end" fill="#9400d3">52</text>
<clipPath id="c21"><rect x="529.9" y="221.4" width="159.60" height="144.8"/></clipPath>
<path d="M529.90,366.20000000000005v-5.0M529.90,221.4v5.0M541.91,366.20000000000005v-2.8M541.91,221.4v2.8M548.94,366.20000000000005v-2.8M548.94,221.4v2.8M553.92,366.20000000000005v-2.8M553.92,221.4v2.8M557.79,366.20000000000005v-2.8M557.79,221.4v2.8M560.95,366.20000000000005v-2.8M560.95,221.4v2.8M563.62,366.20000000000005v-2.8M563.62,221.4v2.8M565.93,366.20000000000005v-2.8M565.93,221.4v2.8M567.97,366.20000000000005v-2.8M567.97,221.4v2.8M569.80,366.20000000000005v-5.0M569.80,221.4v5.0M581.81,366.20000000000005v-2.8M581.81,221.4v2.8M588.84,366.20000000000005v-2.8M588.84,221.4v2.8M593.82,366.20000000000005v-2.8M593.82,221.4v2.8M597.69,366.20000000000005v-2.8M597.69,221.4v2.8M600.85,366.20000000000005v-2.8M600.85,221.4v2.8M603.52,366.20000000000005v-2.8M603.52,221.4v2.8M605.83,366.20000000000005v-2.8M605.83,221.4v2.8M607.87,366.20000000000005v-2.8M607.87,221.4v2.8M609.70,366.20000000000005v-5.0M609.70,221.4v5.0M621.71,366.20000000000005v-2.8M621.71,221.4v2.8M628.74,366.20000000000005v-2.8M628.74,221.4v2.8M633.72,366.20000000000005v-2.8M633.72,221.4v2.8M637.59,366.20000000000005v-2.8M637.59,221.4v2.8M640.75,366.20000000000005v-2.8M640.75,221.4v2.8M643.42,366.20000000000005v-2.8M643.42,221.4v2.8M645.73,366.20000000000005v-2.8M645.73,221.4v2.8M647.77,366.20000000000005v-2.8M647.77,221.4v2.8M649.60,366.20000000000005v-5.0M649.60,221.4v5.0M661.61,366.20000000000005v-2.8M661.61,221.4v2.8M668.64,366.20000000000005v-2.8M668.64,221.4v2.8M673.62,366.20000000000005v-2.8M673.62,221.4v2.8M677.49,366.20000000000005v-2.8M677.49,221.4v2.8M680.65,366.20000000000005v-2.8M680.65,221.4v2.8M683.32,366.20000000000005v-2.8M683.32,221.4v2.8M685.63,366.20000000000005v-2.8M685.63,221.4v2.8M687.67,366.20000000000005v-2.8M687.67,221.4v2.8M689.50,366.20000000000005v-5.0M689.50,221.4v5.0M529.9,221.40h6.0M689.5,221.40h-6.0M529.9,272.01h3.1M689.5,272.01h-3.1M529.9,259.26h3.1M689.5,259.26h-3.1M529.9,250.21h3.1M689.5,250.21h-3.1M529.9,243.19h3.1M689.5,243.19h-3.1M529.9,237.46h3.1M689.5,237.46h-3.1M529.9,232.61h3.1M689.5,232.61h-3.1M529.9,228.42h3.1M689.5,228.42h-3.1M529.9,224.71h3.1M689.5,224.71h-3.1M529.9,293.80h6.0M689.5,293.80h-6.0M529.9,344.41h3.1M689.5,344.41h-3.1M529.9,331.66h3.1M689.5,331.66h-3.1M529.9,322.61h3.1M689.5,322.61h-3.1M529.9,315.59h3.1M689.5,315.59h-3.1M529.9,309.86h3.1M689.5,309.86h-3.1M529.9,305.01h3.1M689.5,305.01h-3.1M529.9,300.82h3.1M689.5,300.82h-3.1M529.9,297.11h3.1M689.5,297.11h-3.1M529.9,366.20h6.0M689.5,366.20h-6.0" stroke="#000" stroke-width="1.1" fill="none"/>
<polygon clip-path="url(#c21)" fill="#8080ff" points="479.90,199.16 739.50,434.69 739.50,462.00 479.90,226.47"/>
<rect x="529.9" y="344.6" width="159.60" height="15.00" fill="#fff"/>
<rect x="529.9" y="344.5" width="159.60" height="14.70" fill="url(#hatch1)"/>
<line x1="529.9" x2="689.5" y1="350.20000000000005" y2="350.20000000000005" stroke="#000" stroke-width="1.3"/>
<line x1="529.9" x2="689.5" y1="316.9" y2="316.9" stroke="#006400" stroke-width="1.8"/>
<rect x="529.9" y="221.4" width="159.60" height="144.8" fill="none" stroke="#000" stroke-width="1.5"/>
<path d="M541.02,233.20V238.20M541.02,243.07V248.07M541.02,262.81V267.81M541.02,272.68V277.68M541.02,282.55V287.55M541.02,292.42V297.42M541.02,302.29V307.29M541.02,312.16V317.16M541.02,322.03V327.03M541.02,331.90V336.90M541.02,351.64V356.64M541.02,361.51V366.20" stroke="#000" stroke-width="1.7" fill="none"/>
<line x1="531.55" x2="531.55" y1="220.5" y2="367.1" stroke="#f00" stroke-width="1.8"/>
<path d="M593.1,257.7H532.6M544.4,254.95L532.6,257.7L544.4,260.45" fill="none" stroke="#f00" stroke-width="1.2"/>
<text xml:space="preserve" transform="translate(597.10,260.50) scale(1.2,1)" font-size="8.1" text-anchor="start" fill="#f00">EXO</text>
<path d="M593.1,266.3H541.8000000000001M553.6,263.55L541.8000000000001,266.3L553.6,269.05" fill="none" stroke="#000" stroke-width="1.2"/>
<text xml:space="preserve" transform="translate(597.10,269.10) scale(1.2,1)" font-size="8.1" text-anchor="start" fill="#000">KamLAND-Zen</text>
<text xml:space="preserve" transform="translate(516.09,382.95) scale(1.2,1)" font-size="11.8" text-anchor="start" fill="#000">10</text>
<text xml:space="preserve" transform="translate(532.14,377.85) scale(1.2,1)" font-size="8.9" text-anchor="start" fill="#000">25</text>
<text xml:space="preserve" transform="translate(555.99,382.95) scale(1.2,1)" font-size="11.8" text-anchor="start" fill="#000">10</text>
<text xml:space="preserve" transform="translate(572.04,377.85) scale(1.2,1)" font-size="8.9" text-anchor="start" fill="#000">26</text>
<text xml:space="preserve" transform="translate(595.89,382.95) scale(1.2,1)" font-size="11.8" text-anchor="start" fill="#000">10</text>
<text xml:space="preserve" transform="translate(611.94,377.85) scale(1.2,1)" font-size="8.9" text-anchor="start" fill="#000">27</text>
<text xml:space="preserve" transform="translate(635.79,382.95) scale(1.2,1)" font-size="11.8" text-anchor="start" fill="#000">10</text>
<text xml:space="preserve" transform="translate(651.84,377.85) scale(1.2,1)" font-size="8.9" text-anchor="start" fill="#000">28</text>
<text xml:space="preserve" transform="translate(675.69,382.95) scale(1.2,1)" font-size="11.8" text-anchor="start" fill="#000">10</text>
<text xml:space="preserve" transform="translate(691.74,377.85) scale(1.2,1)" font-size="8.9" text-anchor="start" fill="#000">29</text>
<text xml:space="preserve" transform="translate(515.36,220.90) scale(1.2,1)" font-size="8.9" text-anchor="start" fill="#000">0</text>
<text xml:space="preserve" transform="translate(499.31,226.50) scale(1.2,1)" font-size="11.8" text-anchor="start" fill="#000">10</text>
<text xml:space="preserve" transform="translate(511.80,293.30) scale(1.2,1)" font-size="8.9" text-anchor="start" fill="#000">-1</text>
<text xml:space="preserve" transform="translate(495.75,298.90) scale(1.2,1)" font-size="11.8" text-anchor="start" fill="#000">10</text>
<text xml:space="preserve" transform="translate(511.80,365.70) scale(1.2,1)" font-size="8.9" text-anchor="start" fill="#000">-2</text>
<text xml:space="preserve" transform="translate(495.75,371.30) scale(1.2,1)" font-size="11.8" text-anchor="start" fill="#000">10</text>
<text xml:space="preserve" transform="translate(575.28,398.60) scale(1.2,1)" font-size="11.4" text-anchor="start" fill="#000">T</text>
<text xml:space="preserve" transform="translate(583.43,394.30) scale(1.2,1)" font-size="9.2" text-anchor="start" fill="#000">0ν</text>
<text xml:space="preserve" transform="translate(583.43,402.90) scale(1.2,1)" font-size="9.2" text-anchor="start" fill="#000">1/2</text>
<text xml:space="preserve" transform="translate(599.78,398.60) scale(1.165,1)" font-size="11.4" text-anchor="start" fill="#000"> [years]</text>
<polyline points="475.10,313.57 481.10,316.57 487.10,313.57" fill="none" stroke="#000" stroke-width="0.9"/>
<text xml:space="preserve" transform="translate(484.70,312.97) rotate(-90) scale(1,1.2)" font-size="11.8" text-anchor="start" fill="#000">m</text>
<text xml:space="preserve" transform="translate(488.70,303.14) rotate(-90) scale(1,1.2)" font-size="8.9" text-anchor="start" fill="#000">ν</text>
<polyline points="475.10,298.29 481.10,295.29 487.10,298.29" fill="none" stroke="#000" stroke-width="0.9"/>
<text xml:space="preserve" transform="translate(484.70,295.29) rotate(-90) scale(1,1.2)" font-size="11.8" text-anchor="start" fill="#000"> [eV]</text>
<polyline points="641.87,302.60 638.67,307.50 641.87,312.40" fill="none" stroke="#000" stroke-width="0.9"/>
<text xml:space="preserve" transform="translate(642.77,311.20) scale(1.2,1)" font-size="11.8" text-anchor="start" fill="#000">m</text>
<text xml:space="preserve" transform="translate(655.07,314.60) scale(1.2,1)" font-size="8.8" text-anchor="start" fill="#000">ν</text>
<polyline points="660.85,302.60 664.05,307.50 660.85,312.40" fill="none" stroke="#000" stroke-width="0.9"/>
<text xml:space="preserve" transform="translate(664.95,304.50) scale(1.2,1)" font-size="8.8" text-anchor="start" fill="#000">IH</text>
<text xml:space="preserve" transform="translate(664.95,314.10) scale(1.2,1)" font-size="8.8" text-anchor="start" fill="#000">max</text>
<polyline points="556.40,333.60 553.20,338.50 556.40,343.40" fill="none" stroke="#000" stroke-width="0.9"/>
<text xml:space="preserve" transform="translate(557.30,342.20) scale(1.2,1)" font-size="11.8" text-anchor="start" fill="#000">m</text>
<text xml:space="preserve" transform="translate(569.60,345.60) scale(1.2,1)" font-size="8.8" text-anchor="start" fill="#000">ν</text>
<polyline points="575.38,333.60 578.58,338.50 575.38,343.40" fill="none" stroke="#000" stroke-width="0.9"/>
<text xml:space="preserve" transform="translate(579.48,335.50) scale(1.2,1)" font-size="8.8" text-anchor="start" fill="#000">IO</text>
<text xml:space="preserve" transform="translate(579.48,345.10) scale(1.2,1)" font-size="8.8" text-anchor="start" fill="#000">min</text>
<text xml:space="preserve" transform="translate(667.82,240.00) scale(1.1,1)" font-size="12.4" text-anchor="start" fill="#9400d3">Xe</text>
<text xml:space="preserve" transform="translate(667.62,233.70) scale(1.2,1)" font-size="9.4" text-anchor="end" fill="#9400d3">136</text>
<text xml:space="preserve" transform="translate(667.62,243.00) scale(1.2,1)" font-size="9.4" text-anchor="end" fill="#9400d3">54</text>
</g>
</svg>
</body></html>
